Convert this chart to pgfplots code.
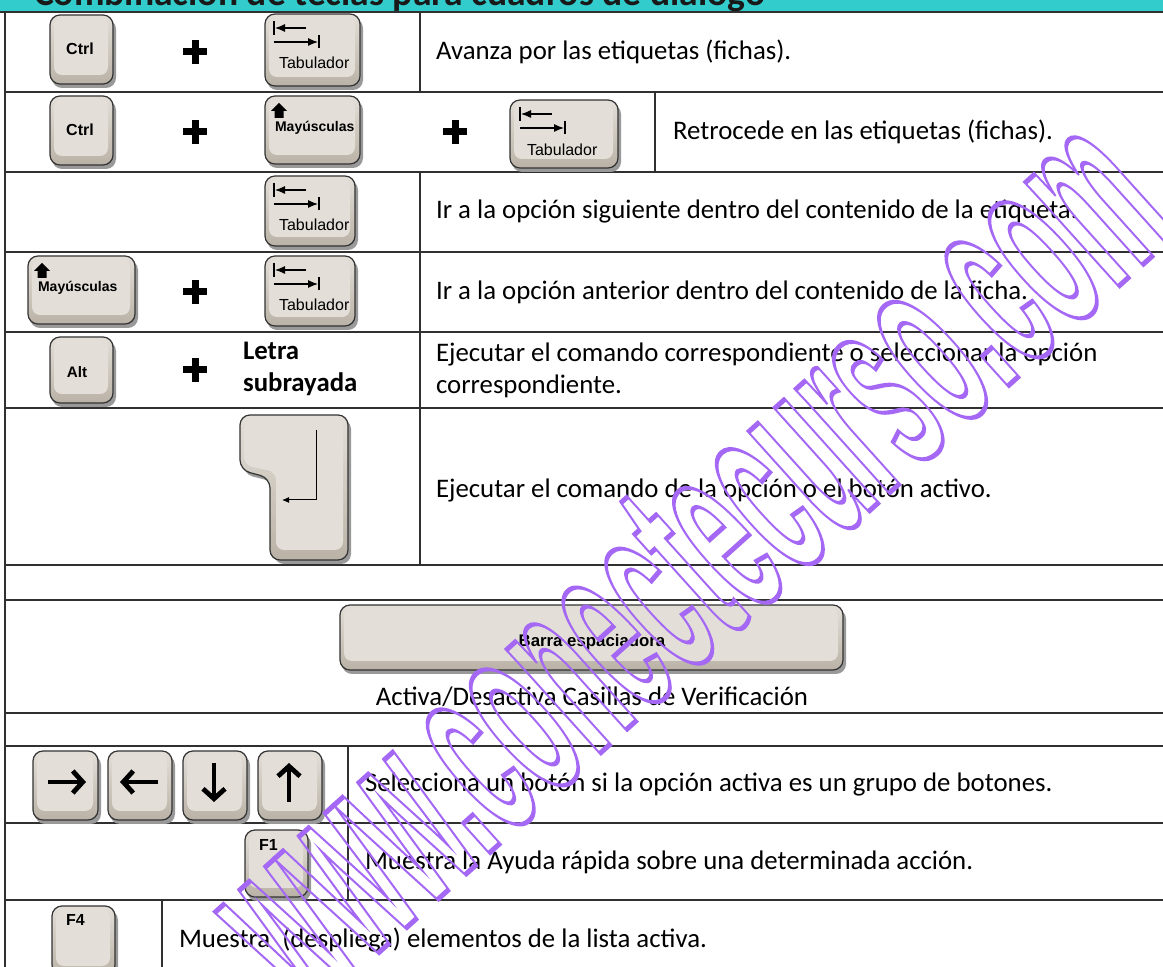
\documentclass[border=0pt]{standalone}
\usepackage{pgfplots}
\pgfplotsset{compat=1.18}
\usetikzlibrary{arrows.meta}
\usepackage{fontspec}
\setmainfont{Carlito}
\newfontfamily\arial{Liberation Sans}
\definecolor{teal1}{HTML}{33CCCC}
\definecolor{keytopc}{HTML}{E3DFD8}
\definecolor{keybot}{HTML}{BAB2A6}
\definecolor{keyedge}{HTML}{333333}
\definecolor{wm}{HTML}{A468F5}
\definecolor{gridc}{HTML}{303030}
% key: x1 y1 x2 y2 (top-left, bottom-right, image pixels)
\newcommand\keybox[4]{%
  \fill[black!40,rounded corners=5pt] (#1+2,#2+4) rectangle (#3+3,#4+4);
  \shade[top color=keytopc,bottom color=keybot,draw=keyedge,line width=0.6pt,rounded corners=5pt] (#1,#2) rectangle (#3,#4);
  \fill[keytopc,rounded corners=4pt] (#1+4,#2+3) rectangle (#3-5,#4-9);
}
\newcommand\plussym[2]{%
  \fill (#1-3.5,#2-12) rectangle (#1+3.5,#2+12);
  \fill (#1-12,#2-3.5) rectangle (#1+12,#2+3.5);
}
% tab symbol, top-left of symbol at #1,#2
\newcommand\tabsym[2]{%
  \draw[line width=0.7pt] (#1,#2) -- (#1,#2+14);
  \draw[line width=0.55pt,-{Latex[length=5pt,width=4pt]}] (#1+32,#2+7) -- (#1+1,#2+7);
  \draw[line width=0.55pt,-{Latex[length=5pt,width=4pt]}] (#1,#2+21) -- (#1+44,#2+21);
  \draw[line width=0.7pt] (#1+45,#2+14) -- (#1+45,#2+27);
}
\newcommand\shiftsym[2]{%
  \fill (#1,#2) -- (#1+8,#2+8) -- (#1+4.5,#2+8) -- (#1+4.5,#2+15) -- (#1-4.5,#2+15) -- (#1-4.5,#2+8) -- (#1-8,#2+8) -- cycle;
}
\begin{document}
\begin{tikzpicture}
\begin{axis}[width=581.5pt,height=483.5pt,scale only axis,
  xmin=0,xmax=1163,ymin=0,ymax=967,y dir=reverse,hide axis,clip=false]
% header band
\fill[teal1] (0,-40) rectangle (1163,12);
\node[anchor=base west,font=\fontsize{18.8}{22}\selectfont\bfseries,text=black!90] at (27,6) {Combinación de teclas para cuadros de diálogo};
% table grid
\addplot[gridc,line width=0.75pt,unbounded coords=jump] coordinates {
 (0,12) (1163,12) (nan,nan)
 (5,92) (1163,92) (nan,nan)
 (5,172) (1163,172) (nan,nan)
 (5,252) (1163,252) (nan,nan)
 (5,332) (1163,332) (nan,nan)
 (5,408) (1163,408) (nan,nan)
 (5,565) (1163,565) (nan,nan)
 (5,600) (1163,600) (nan,nan)
 (5,713) (1163,713) (nan,nan)
 (5,746) (1163,746) (nan,nan)
 (5,823) (1163,823) (nan,nan)
 (5,900) (1163,900) (nan,nan)
 (5,12) (5,967) (nan,nan)
 (420,12) (420,92) (nan,nan)
 (655,92) (655,172) (nan,nan)
 (420,172) (420,565) (nan,nan)
 (348,746) (348,900) (nan,nan)
 (162,900) (162,967)
};
% row 1
\keybox{50}{15}{113}{84}
\node[font=\arial\bfseries\fontsize{8}{9}\selectfont] at (80,49) {Ctrl};
\plussym{195}{52}
\keybox{265}{14}{360}{86}
\tabsym{274}{21}
\node[anchor=west,font=\arial\fontsize{8}{9}\selectfont] at (272,63) {Tabulador};
\node[anchor=west,font=\fontsize{13.4}{16}\selectfont] at (429,52) {Avanza por las etiquetas (fichas).};
% row 2
\keybox{50}{96}{113}{165}
\node[font=\arial\bfseries\fontsize{8}{9}\selectfont] at (80,130) {Ctrl};
\plussym{195}{132}
\keybox{265}{96}{360}{164}
\shiftsym{279}{103}
\node[anchor=west,font=\arial\bfseries\fontsize{7}{8}\selectfont] at (268,128) {Mayúsculas};
\plussym{455}{132}
\keybox{510}{100}{618}{168}
\tabsym{520}{107}
\node[anchor=west,font=\arial\fontsize{8}{9}\selectfont] at (520,150) {Tabulador};
\node[anchor=west,font=\fontsize{13.4}{16}\selectfont] at (666,132) {Retrocede en las etiquetas (fichas).};
% row 3
\keybox{265}{176}{355}{246}
\tabsym{274}{183}
\node[anchor=west,font=\arial\fontsize{8}{9}\selectfont] at (272,225) {Tabulador};
\node[anchor=west,font=\fontsize{13.4}{16}\selectfont] at (429,212) {Ir a la opción siguiente dentro del contenido de la etiqueta.};
% row 4
\keybox{28}{256}{135}{324}
\shiftsym{42}{263}
\node[anchor=west,font=\arial\bfseries\fontsize{7}{8}\selectfont] at (31,288) {Mayúsculas};
\plussym{195}{292}
\keybox{265}{256}{355}{326}
\tabsym{274}{263}
\node[anchor=west,font=\arial\fontsize{8}{9}\selectfont] at (272,305) {Tabulador};
\node[anchor=west,font=\fontsize{13.4}{16}\selectfont] at (429,292) {Ir a la opción anterior dentro del contenido de la ficha.};
% row 5
\keybox{50}{337}{113}{403}
\node[font=\arial\bfseries\fontsize{7.6}{8}\selectfont] at (77,372) {Alt};
\plussym{195}{370}
\node[anchor=west,align=left,font=\fontsize{13.4}{16}\selectfont\bfseries] at (236,369) {Letra\\subrayada};
\node[anchor=west,align=left,font=\fontsize{13.4}{16}\selectfont] at (429,370) {Ejecutar el comando correspondiente o seleccionar la opción\\correspondiente.};
% row 6 enter key
\fill[black!40,rounded corners=5pt] (243,419) -- (351,419) -- (351,564) -- (274,564) -- (274,482) -- (243,474) -- cycle;
\shade[top color=keytopc,bottom color=keybot,draw=keyedge,line width=0.6pt,rounded corners=5pt]
  (240,415) -- (348,415) -- (348,560) -- (270,560) -- (270,478) -- (240,470) -- cycle;
\fill[keytopc,rounded corners=4pt] (244,418) -- (343,418) -- (343,550) -- (276,550) -- (276,472) -- (244,465) -- cycle;
\draw[line width=0.5pt,-{Latex[length=3.5pt,width=3pt]}] (316,430) -- (316,500) -- (282,500);
\node[anchor=west,font=\fontsize{13.4}{16}\selectfont] at (429,490) {Ejecutar el comando de la opción o el botón activo.};
% spacebar
\keybox{340}{605}{843}{670}
\node[font=\arial\bfseries\fontsize{8.4}{9}\selectfont] at (592,642) {Barra espaciadora};
\node[font=\fontsize{13.4}{16}\selectfont] at (592,697) {Activa/Desactiva Casillas de Verificación};
% arrow keys
\keybox{33}{751}{98}{820}
\keybox{108}{751}{172}{820}
\keybox{183}{751}{247}{820}
\keybox{258}{751}{322}{820}
\draw[line width=2.4pt,-{Straight Barb[length=5pt,width=11pt]}] (48,782) -- (86,782);
\draw[line width=2.4pt,-{Straight Barb[length=5pt,width=11pt]}] (158,782) -- (120,782);
\draw[line width=2.4pt,-{Straight Barb[length=5pt,width=11pt]}] (214,763) -- (214,802);
\draw[line width=2.4pt,-{Straight Barb[length=5pt,width=11pt]}] (289,802) -- (289,763);
\node[anchor=west,font=\fontsize{13.4}{16}\selectfont] at (358,785) {Selecciona un botón si la opción activa es un grupo de botones.};
% F1
\keybox{245}{830}{308}{897}
\node[anchor=west,font=\arial\bfseries\fontsize{8}{9}\selectfont] at (252,845) {F1};
\node[anchor=west,font=\fontsize{13.4}{16}\selectfont] at (358,862) {Muestra la Ayuda rápida sobre una determinada acción.};
% F4
\keybox{52}{906}{115}{975}
\node[anchor=west,font=\arial\bfseries\fontsize{8}{9}\selectfont] at (59,920) {F4};
\node[anchor=west,font=\fontsize{13.4}{16}\selectfont] at (172,940) {Muestra\ \ (despliega) elementos de la lista activa.};
% watermark
\node[rotate=42,text=wm,font=\arial\bfseries\fontsize{132}{132}\selectfont,xscale=0.39] at (688,560)
  {\special{pdf:literal direct 1 Tr 2.5 w}www.conectecurso.com\special{pdf:literal direct 0 Tr 1 w}};
\end{axis}
\pgfresetboundingbox
\useasboundingbox (current axis.south west) rectangle (current axis.north east);
\end{tikzpicture}
\end{document}
